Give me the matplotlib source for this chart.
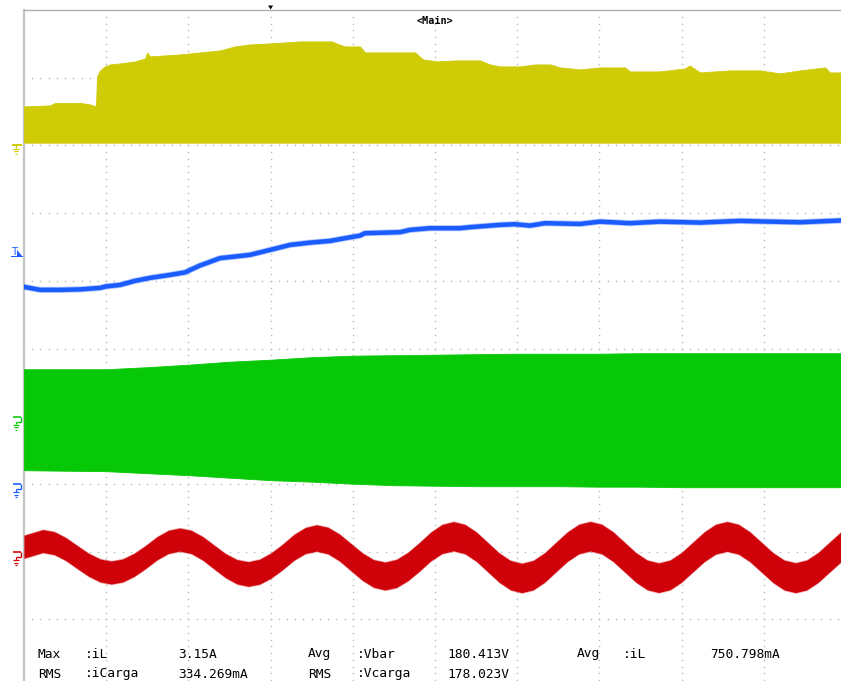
import numpy as np
import matplotlib
matplotlib.use("Agg")
import matplotlib.pyplot as plt
from matplotlib.patches import Polygon

# Screen: 10 ms/div horizontally (10 div), 10 div vertically
T_SPAN = 100.0
N_DIV = 10

# Ground level of each channel, in divisions from the bottom of the screen
ch_ground = {"Vbar": 8.0, "Vcarga": 4.0, "iL": 3.0, "iCarga": 2.0}
trigger_time = 30.0      # ms, trigger position marker
trigger_level = 3.37     # div above the iL ground

# Vbar (switched): upper envelope above ground, div
vbar_t = [0, 3.16, 3.77, 6.81, 8.03, 8.76, 8.88, 9.25, 9.85, 10.46, 11.68, 13.50,
          14.72, 15.0, 15.33, 18.98, 21.41, 23.84, 25.67, 27.49, 29.93, 31.75,
          33.58, 37.47, 38.0, 39.05, 40.88, 41.48, 47.57, 48.54, 50.24, 52.68,
          55.47, 56.69, 57.91, 60.34, 62.17, 64.0, 65.21, 67.64, 70.07, 73.11,
          73.72, 77.37, 80.41, 81.0, 82.24, 85.89, 89.54, 91.97, 94.40, 97.45,
          98.05, 100]
vbar_top = [0.576, 0.591, 0.628, 0.628, 0.606, 0.576, 1.019, 1.108, 1.167, 1.196,
            1.211, 1.241, 1.285, 1.374, 1.315, 1.344, 1.374, 1.403, 1.462, 1.492,
            1.507, 1.521, 1.536, 1.536, 1.507, 1.462, 1.462, 1.374, 1.374, 1.270,
            1.241, 1.256, 1.256, 1.196, 1.167, 1.167, 1.196, 1.196, 1.152, 1.123,
            1.152, 1.152, 1.093, 1.093, 1.137, 1.180, 1.078, 1.108, 1.108, 1.064,
            1.108, 1.152, 1.078, 1.078]
vbar_floor = 0.04

# Vcarga (switched, bipolar): upper / lower envelopes, div
vcarga_t = [0, 5, 10, 15, 20, 25, 30, 35, 40, 45, 50, 55, 60, 65, 70, 75, 80, 85,
            90, 95, 100]
vcarga_top = [0.694, 0.694, 0.694, 0.724, 0.761, 0.805, 0.835, 0.872, 0.894, 0.901,
              0.908, 0.916, 0.923, 0.923, 0.923, 0.931, 0.931, 0.931, 0.931, 0.931,
              0.931]
vcarga_bottom = [-0.798, -0.805, -0.812, -0.842, -0.871, -0.908, -0.945, -0.967,
                 -0.997, -1.019, -1.027, -1.034, -1.034, -1.034, -1.041, -1.041,
                 -1.049, -1.049, -1.049, -1.049, -1.049]

# iL (inductor current), div above ground
il_t = [0, 1.95, 4.38, 6.81, 9.25, 9.98, 11.68, 13.50, 15.33, 17.76, 19.59, 21.41,
        23.84, 27.49, 29.93, 32.36, 34.79, 37.23, 39.05, 40.88, 41.48, 45.74,
        46.96, 49.39, 53.04, 54.26, 57.91, 59.73, 61.56, 63.38, 67.64, 70.07,
        73.72, 77.37, 82.24, 87.10, 90.75, 94.40, 100]
il_v = [2.910, 2.866, 2.866, 2.873, 2.895, 2.917, 2.939, 2.999, 3.043, 3.087, 3.124,
        3.226, 3.334, 3.383, 3.456, 3.530, 3.564, 3.589, 3.629, 3.668, 3.703, 3.718,
        3.752, 3.777, 3.777, 3.792, 3.826, 3.836, 3.815, 3.851, 3.840, 3.874, 3.851,
        3.874, 3.860, 3.885, 3.874, 3.865, 3.894]

# iCarga (load current, 60 Hz): band centre, div relative to ground
icarga_t = [0, 2.31, 3.70, 5.08, 6.47, 7.86, 9.25, 10.63, 12.02, 13.41, 14.79, 16.18,
            17.57, 18.95, 20.34, 21.73, 23.12, 24.50, 25.89, 27.28, 28.66, 30.05,
            31.44, 32.82, 34.21, 35.60, 36.98, 38.37, 39.76, 41.15, 42.53, 43.92,
            45.31, 46.69, 48.08, 49.47, 50.85, 52.24, 53.63, 55.02, 56.40, 57.79,
            59.18, 60.56, 61.95, 63.34, 64.72, 66.11, 67.50, 68.89, 70.27, 71.66,
            73.05, 74.43, 75.82, 77.21, 78.59, 79.98, 81.37, 82.76, 84.14, 85.53,
            86.92, 88.30, 89.69, 91.08, 92.46, 93.85, 95.24, 96.62, 98.01, 99.40,
            100.79]
icarga_c = [0.072, 0.156, 0.124, 0.038, -0.080, -0.195, -0.278, -0.309, -0.278,
            -0.195, -0.080, 0.049, 0.143, 0.178, 0.143, 0.049, -0.080, -0.206,
            -0.297, -0.331, -0.297, -0.206, -0.080, 0.061, 0.163, 0.201, 0.163,
            0.061, -0.080, -0.221, -0.323, -0.361, -0.323, -0.221, -0.080, 0.074,
            0.186, 0.227, 0.186, 0.074, -0.080, -0.235, -0.348, -0.390, -0.348,
            -0.235, -0.080, 0.074, 0.186, 0.227, 0.186, 0.074, -0.080, -0.233,
            -0.345, -0.386, -0.345, -0.233, -0.080, 0.072, 0.183, 0.224, 0.183,
            0.072, -0.080, -0.233, -0.345, -0.386, -0.345, -0.233, -0.080, 0.072,
            0.183]
# ripple band half-height over time, div
icarga_band_t = [0, 20, 30, 40, 52, 100]
icarga_band_h = [0.168, 0.170, 0.185, 0.200, 0.215, 0.220]

# Measurement readout
meas_rows = [
    [("Max", 38), (":iL", 85), ("3.15A", 178), ("Avg", 308), (":Vbar", 357),
     ("180.413V", 447), ("Avg", 577), (":iL", 623), ("750.798mA", 710)],
    [("RMS", 38), (":iCarga", 85), ("334.269mA", 178), ("RMS", 308),
     (":Vcarga", 357), ("178.023V", 447)],
]

C_Y = "#cfcb07"
C_G = "#07c807"
C_B = "#1b5cff"
C_R = "#cf0209"
C_GRID = "#b9b9b9"
C_FRAME = "#c4c4c4"

W, H = 841, 681
fig = plt.figure(figsize=(W / 100, H / 100), dpi=100)
fig.patch.set_facecolor("white")

ax = fig.add_axes([24 / W, (H - 687) / H, 822 / W, 677 / H])
ax.set_xlim(0, T_SPAN)
ax.set_ylim(0, N_DIV)
ax.set_xticks([])
ax.set_yticks([])
for side in ("right", "bottom"):
    ax.spines[side].set_visible(False)
ax.spines["left"].set_color(C_FRAME)
ax.spines["left"].set_linewidth(1.6)
ax.spines["top"].set_color("#b0b0b0")
ax.spines["top"].set_linewidth(1.0)

# dotted graticule: one dot every 1/10 division
dx = T_SPAN / N_DIV
for k in range(1, N_DIV):
    ys = np.arange(1, N_DIV * 10) / 10.0
    ax.plot(np.full_like(ys, k * dx), ys, ls="none", marker="s", ms=1.0,
            mew=0, color=C_GRID, zorder=1)
    xs = np.arange(1, N_DIV * 10) * dx / 10.0
    ax.plot(xs, np.full_like(xs, float(k)), ls="none", marker="s", ms=1.0,
            mew=0, color=C_GRID, zorder=1)

# Vbar
g = ch_ground["Vbar"]
ax.fill_between(vbar_t, g + vbar_floor, g + np.array(vbar_top), color=C_Y,
                lw=0.6, edgecolor=C_Y, zorder=3)

# Vcarga
g = ch_ground["Vcarga"]
ax.fill_between(vcarga_t, g + np.array(vcarga_bottom), g + np.array(vcarga_top),
                color=C_G, lw=0.6, edgecolor=C_G, zorder=3)

# iL
g = ch_ground["iL"]
ax.plot(il_t, g + np.array(il_v), color=C_B, lw=4.4, alpha=0.35, zorder=3,
        solid_joinstyle="round")
ax.plot(il_t, g + np.array(il_v), color=C_B, lw=3.2, zorder=4,
        solid_joinstyle="round")

# iCarga
g = ch_ground["iCarga"]
rc = np.array(icarga_c)
rh = np.interp(icarga_t, icarga_band_t, icarga_band_h)
ax.fill_between(icarga_t, g + rc - rh - 0.012, g + rc + rh + 0.012, color=C_R,
                alpha=0.35, lw=0, zorder=3)
ax.fill_between(icarga_t, g + rc - rh, g + rc + rh, color=C_R, lw=0, zorder=4)

# overlay in pixel coordinates for markers and readout
ov = fig.add_axes([0, 0, 1, 1], zorder=5)
ov.set_xlim(0, W)
ov.set_ylim(H, 0)
ov.axis("off")
ov.patch.set_alpha(0)
fig.canvas.draw()


def level_px(level):
    return H - ax.transData.transform((0, level))[1]


def time_px(t):
    return ax.transData.transform((t, 0))[0]


PX = 0.72  # points per pixel at 100 dpi


def ground_symbol(level, color, stepped):
    y0 = level_px(level)
    segs = []
    if stepped:
        segs += [((13, 21.5), (y0 + 0.5, y0 + 0.5), 1.6),
                 ((21, 21), (y0 + 0.5, y0 + 5.5), 1.4),
                 ((16, 21), (y0 + 5.5, y0 + 5.5), 1.4),
                 ((16.5, 16.5), (y0 + 5.5, y0 + 8), 1.2)]
        base = y0 + 8
    else:
        segs += [((12.5, 22), (y0 - 0.5, y0 - 0.5), 2.0),
                 ((16.5, 16.5), (y0 - 0.5, y0 + 3), 1.2)]
        base = y0 + 3
    segs += [((13.5, 19.5), (base + 0.5, base + 0.5), 1.2),
             ((14.5, 18.5), (base + 3, base + 3), 1.2),
             ((15.5, 17.5), (base + 5.5, base + 5.5), 1.2)]
    for xs, ys, w in segs:
        ov.plot(xs, ys, color=color, lw=w * PX, solid_capstyle="butt")


ground_symbol(ch_ground["Vbar"], C_Y, False)
ground_symbol(ch_ground["Vcarga"], C_G, True)
ground_symbol(ch_ground["iL"], C_B, True)
ground_symbol(ch_ground["iCarga"], C_R, True)

# trigger level marker on the iL channel
ty = level_px(ch_ground["iL"] + trigger_level)
ov.text(14.5, ty - 0.5, "T", color=C_B, fontsize=7.5, family="DejaVu Sans",
        ha="center", va="baseline")
ov.add_patch(Polygon([(17.3, ty - 5.5), (17.3, ty), (22.5, ty)], closed=True,
                     color=C_B, lw=0))
ov.plot([11.5, 22.5], [ty + 0.3, ty + 0.3], color=C_B, lw=1.0 * PX)

# trigger position marker on the top edge
tx = time_px(trigger_time)
ov.add_patch(Polygon([(tx - 2.5, 5.5), (tx + 2.5, 5.5), (tx, 9.5)], closed=True,
                     color="black", lw=0))

ov.text(435, 20.5, "<Main>", fontsize=7.3, family="DejaVu Sans Mono",
        weight="bold", ha="center", va="center", color="black")

for row, base in zip(meas_rows, (657.5, 677.5)):
    for s, x in row:
        ov.text(x, base, s, fontsize=9.3, family="DejaVu Sans Mono", ha="left",
                va="baseline", color="black")

fig.savefig("out.png", dpi=100, facecolor="white")
